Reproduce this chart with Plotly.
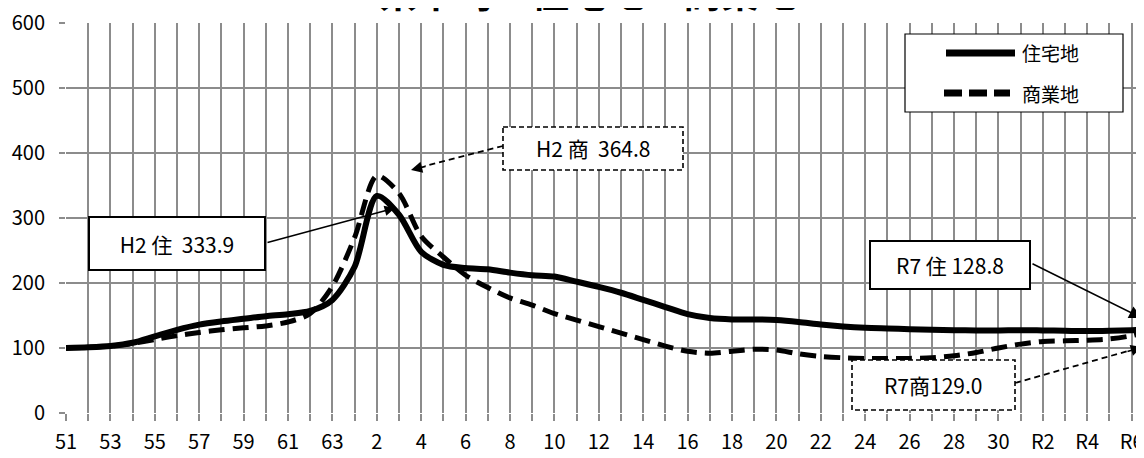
import plotly.graph_objects as go

# ---- data ----
categories = ([str(n) for n in range(51, 64)] + ["元"] + [str(n) for n in range(2, 31)]
              + ["R1", "R2", "R3", "R4", "R5", "R6", "R7"])
residential = [100, 101, 103, 108, 118, 128, 136, 141, 145, 149,
               152, 157, 174, 225, 333.9, 305, 248, 228, 223, 221,
               216, 212, 210, 202, 194, 185, 174, 163, 152, 146,
               144, 144, 143, 140, 136, 133, 131, 130, 129, 128,
               127.5, 127, 127, 127.5, 127, 126.5, 126, 126.5, 127.5, 128.8]
commercial = [100, 101, 103, 107, 113, 119, 124, 128, 131, 134,
              140, 153, 195, 270, 364.8, 338, 272, 240, 212, 193,
              177, 166, 153, 143, 133, 123, 113, 103, 95, 92,
              95, 98, 97, 91, 87, 85, 84, 84, 84, 85,
              88, 93, 100, 106, 110, 111, 112, 114, 119, 129.0]
tick_labels = [c if i % 2 == 0 else "" for i, c in enumerate(categories)]
series_names = ["住宅地", "商業地"]
title_text = "＜県平均　住宅地　商業地＞"
notes = ["H2 住  333.9", "H2 商  364.8", "R7 住 128.8", "R7商129.0"]

# page has an 8px body margin; size the figure so the plot area lands where the reference has it
OFF = 8
W, H = 1144 - OFF, 458 - OFF
PL, PT, PR, PB = 66, 23, 1144, 413          # plot area in page pixels
L, T = PL - OFF, PT - OFF
PW, PH = PR - PL, PB - PT
R, B = W - L - PW, H - T - PH
STEP = 22.2
FONT = "Noto Sans CJK JP"
GRID = "#8c8c8c"

def px(x):
    return (x - PL) / PW

def py(y):
    return (PB - y) / PH

xs = list(range(len(categories)))

fig = go.Figure()
fig.add_trace(go.Scatter(x=xs, y=residential, name=series_names[0], mode="lines",
                         line=dict(color="black", width=6, shape="spline", smoothing=0.8),
                         showlegend=False))
fig.add_trace(go.Scatter(x=xs, y=commercial, name=series_names[1], mode="lines",
                         line=dict(color="black", width=5, dash="16px,8px", shape="spline", smoothing=0.8),
                         showlegend=False))

shapes = []
annotations = []

# title (cut off at top like the reference)
annotations.append(dict(xref="paper", yref="paper", x=px(588), y=py(20), xanchor="center", yanchor="bottom",
                        text=title_text, showarrow=False,
                        font=dict(family=FONT, size=38, color="black", weight="bold")))

# legend (manual)
shapes.append(dict(type="rect", xref="paper", yref="paper", x0=px(905), x1=px(1123), y0=py(34), y1=py(112),
                   line=dict(color="black", width=1.2), fillcolor="white", layer="above"))
shapes.append(dict(type="line", xref="paper", yref="paper", x0=px(946), x1=px(1015), y0=py(53), y1=py(53),
                   line=dict(color="black", width=7), layer="above"))
shapes.append(dict(type="line", xref="paper", yref="paper", x0=px(944), x1=px(1010), y0=py(93), y1=py(93),
                   line=dict(color="black", width=7, dash="18px,7px"), layer="above"))
for name, yy in zip(series_names, [53, 93]):
    annotations.append(dict(xref="paper", yref="paper", x=px(1020), y=py(yy), xanchor="left", yanchor="middle",
                            text=name, showarrow=False, font=dict(family=FONT, size=19, color="black")))

# H2 residential box (solid)
annotations.append(dict(xref="paper", yref="paper", x=px(177), y=py(243), xanchor="center", yanchor="middle",
                        text=notes[0], showarrow=False, bgcolor="white", bordercolor="black", borderwidth=2,
                        borderpad=0, width=174, height=51, font=dict(family=FONT, size=21, color="black")))
annotations.append(dict(xref="paper", yref="paper", x=px(395), y=py(208), axref="pixel", ayref="pixel",
                        ax=266 - 395, ay=243 - 208, text=" ", font=dict(size=1), showarrow=True,
                        arrowhead=2, arrowsize=1.3, arrowwidth=1.6, arrowcolor="black", standoff=0))

# H2 commercial box (dashed)
shapes.append(dict(type="rect", xref="paper", yref="paper", x0=px(503), x1=px(683), y0=py(127), y1=py(170),
                   line=dict(color="black", width=1.6, dash="5px,3px"), fillcolor="white", layer="above"))
annotations.append(dict(xref="paper", yref="paper", x=px(593), y=py(148), xanchor="center", yanchor="middle",
                        text=notes[1], showarrow=False, font=dict(family=FONT, size=21, color="black")))
shapes.append(dict(type="line", xref="paper", yref="paper", x0=px(503), y0=py(146), x1=px(425), y1=py(166),
                   line=dict(color="black", width=1.8, dash="6px,4px"), layer="above"))
annotations.append(dict(xref="paper", yref="paper", x=px(411), y=py(170), axref="pixel", ayref="pixel",
                        ax=16, ay=-4, text=" ", font=dict(size=1), showarrow=True,
                        arrowhead=2, arrowsize=1.4, arrowwidth=1.6, arrowcolor="black", standoff=0))

# R7 residential box (solid)
annotations.append(dict(xref="paper", yref="paper", x=px(950), y=py(265), xanchor="center", yanchor="middle",
                        text=notes[2], showarrow=False, bgcolor="white", bordercolor="black", borderwidth=2,
                        borderpad=0, width=158, height=46, font=dict(family=FONT, size=21, color="black")))
annotations.append(dict(xref="paper", yref="paper", x=px(1142), y=py(318), axref="pixel", ayref="pixel",
                        ax=1031 - 1142, ay=263 - 318, text=" ", font=dict(size=1), showarrow=True,
                        arrowhead=2, arrowsize=1.6, arrowwidth=1.6, arrowcolor="black", standoff=0))

# R7 commercial box (dashed)
shapes.append(dict(type="rect", xref="paper", yref="paper", x0=px(852), x1=px(1015), y0=py(360), y1=py(410),
                   line=dict(color="black", width=1.6, dash="5px,3px"), fillcolor="white", layer="above"))
annotations.append(dict(xref="paper", yref="paper", x=px(933), y=py(385), xanchor="center", yanchor="middle",
                        text=notes[3], showarrow=False, font=dict(family=FONT, size=21, color="black")))
shapes.append(dict(type="line", xref="paper", yref="paper", x0=px(1015), y0=py(383), x1=px(1128), y1=py(351),
                   line=dict(color="black", width=1.8, dash="6px,4px"), layer="above"))
annotations.append(dict(xref="paper", yref="paper", x=px(1142), y=py(347), axref="pixel", ayref="pixel",
                        ax=-16, ay=5, text=" ", font=dict(size=1), showarrow=True,
                        arrowhead=2, arrowsize=1.4, arrowwidth=1.6, arrowcolor="black", standoff=0))

fig.update_layout(
    width=W, height=H,
    margin=dict(l=L, r=R, t=T, b=B, pad=0),
    paper_bgcolor="white", plot_bgcolor="white",
    showlegend=False,
    shapes=shapes, annotations=annotations,
    font=dict(family=FONT, color="black"),
)
fig.update_xaxes(range=[0, PW / STEP], tickmode="array", tickvals=xs, ticktext=tick_labels,
                 showgrid=True, gridcolor=GRID, gridwidth=1.5, zeroline=False,
                 showline=False, ticks="outside", ticklen=7, tickwidth=1.5, tickcolor=GRID,
                 tickfont=dict(family=FONT, size=20, color="black"), ticklabelstandoff=4,
                 ticklabeloverflow="allow")
fig.update_yaxes(range=[0, 600], dtick=100, showgrid=True, gridcolor=GRID, gridwidth=1.5,
                 zeroline=False, showline=False, ticks="outside", ticklen=6, tickwidth=1.5, tickcolor=GRID,
                 tickfont=dict(family=FONT, size=20, color="black"), ticklabelstandoff=10,
                 ticklabeloverflow="allow")

fig.write_html("out.html")
